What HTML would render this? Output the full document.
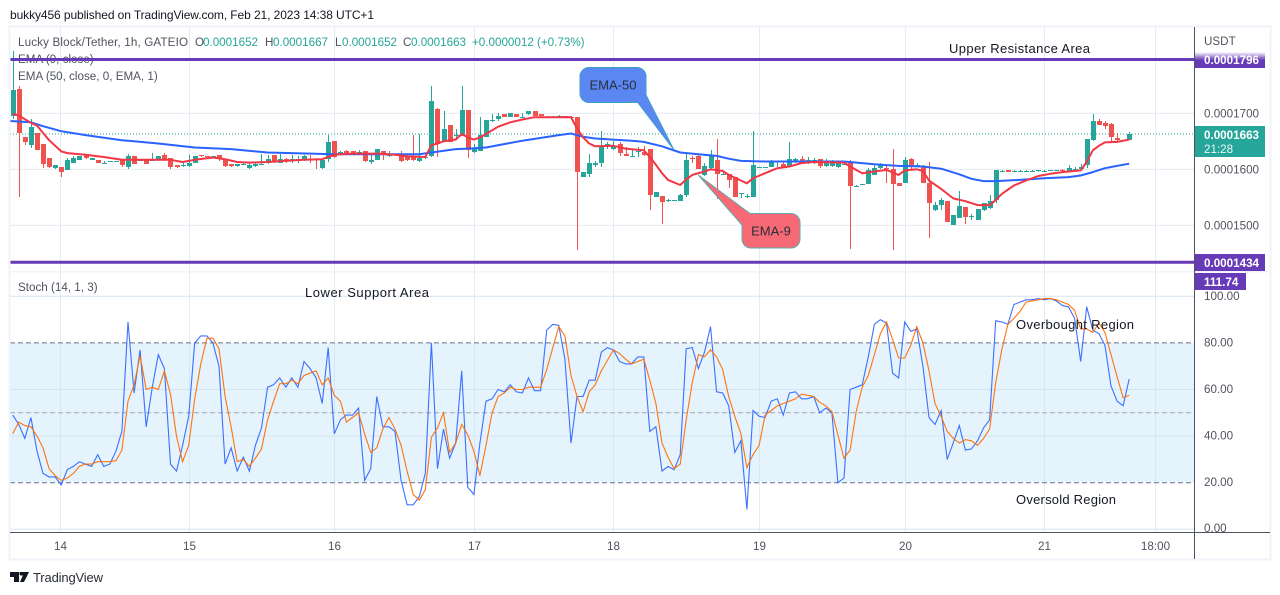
<!DOCTYPE html>
<html lang="en">
<head>
<meta charset="utf-8">
<title>Lucky Block/Tether 1h chart</title>
<style>
html,body{margin:0;padding:0;background:#fff;width:1280px;height:595px;overflow:hidden}
svg{display:block;font-family:"Liberation Sans",sans-serif}
.axis{font-size:11.65px;fill:#50535e}
.legend{font-size:11.65px;fill:#50535e}
.val{font-size:11.65px;fill:#26a69a}
.note{font-size:13px;fill:#131722}
.tag{font-size:11.65px;fill:#fff;font-weight:700}
</style>
</head>
<body>
<svg id="chart" xmlns="http://www.w3.org/2000/svg" width="1280" height="595" viewBox="0 0 1280 595">
  <defs>
    <linearGradient id="fadeTag" x1="0" y1="0" x2="0" y2="1">
      <stop offset="0" stop-color="#ffffff"/>
      <stop offset="0.5" stop-color="#673ab7"/>
      <stop offset="1" stop-color="#673ab7"/>
    </linearGradient>
    <clipPath id="mainClip"><rect x="10" y="27" width="1184.5" height="244"/></clipPath>
    <clipPath id="stochClip"><rect x="10" y="272" width="1184.5" height="260"/></clipPath>
  </defs>
  <text x="10" y="19" font-size="12" fill="#131722" textLength="364" lengthAdjust="spacing">bukky456 published on TradingView.com, Feb 21, 2023 14:38 UTC+1</text>

  <rect id="stochBand" x="10" width="1184.5" fill="#e5f3fd"/>
  <g id="gridLayer"></g>

  <g>
    <text class="legend" x="18" y="46" textLength="170" lengthAdjust="spacing">Lucky Block/Tether, 1h, GATEIO</text>
    <text class="legend" x="195" y="46">O</text>
    <text class="val" x="203" y="46">0.0001652</text>
    <text class="legend" x="265" y="46">H</text>
    <text class="val" x="273" y="46">0.0001667</text>
    <text class="legend" x="335" y="46">L</text>
    <text class="val" x="342" y="46">0.0001652</text>
    <text class="legend" x="403" y="46">C</text>
    <text class="val" x="411" y="46">0.0001663</text>
    <text class="val" x="472" y="46">+0.0000012</text>
    <text class="val" x="537" y="46">(+0.73%)</text>
    <text class="legend" x="18" y="63">EMA (9, close)</text>
    <text class="legend" x="18" y="80">EMA (50, close, 0, EMA, 1)</text>
    <text class="legend" x="18" y="291">Stoch (14, 1, 3)</text>
  </g>

  <g id="mainLayer" clip-path="url(#mainClip)"></g>
  <g id="stochLayer" clip-path="url(#stochClip)"></g>
  <g id="levelLayer"></g>

  <g>
    <path d="M589 67.5H637a9 9 0 0 1 9 9V95L674 150L637.7 102.5H589a9 9 0 0 1 -9 -9V76.5a9 9 0 0 1 9 -9Z" fill="#5b87f3" stroke="#3f9fc9" stroke-width="1"/>
    <text x="613" y="89.5" font-size="13" fill="#2a2e39" text-anchor="middle">EMA-50</text>
  </g>
  <g>
    <path d="M698.3 175L750 213.5H791a9 9 0 0 1 9 9V239a9 9 0 0 1 -9 9H751a9 9 0 0 1 -9 -9V225Z" fill="#f76a75" stroke="#5fa9b0" stroke-width="1"/>
    <text x="771" y="235.5" font-size="13" fill="#2a2e39" text-anchor="middle">EMA-9</text>
  </g>

  <text class="note" x="949" y="53" textLength="141" lengthAdjust="spacing">Upper Resistance Area</text>
  <text class="note" x="305" y="297" textLength="124" lengthAdjust="spacing">Lower Support Area</text>
  <text class="note" x="1016" y="329" textLength="118" lengthAdjust="spacing">Overbought Region</text>
  <text class="note" x="1016" y="504" textLength="100" lengthAdjust="spacing">Oversold Region</text>

  <rect x="9.5" y="26.5" width="1261" height="533" fill="none" stroke="#f0f3fa" stroke-width="2"/>
  <rect x="10" y="271" width="1260" height="1.5" fill="#f0f3fa"/>
  <rect x="1194" y="27" width="1" height="532" fill="#50535e"/>
  <rect x="10" y="532" width="1260" height="1" fill="#50535e"/>

  <text class="axis" x="1204" y="45">USDT</text>
  <g id="axisLayer"></g>

  <rect x="1195" y="52" width="70" height="16" fill="url(#fadeTag)"/>
  <text class="tag" x="1204" y="64">0.0001796</text>
  <rect x="1195" y="254" width="70" height="17" fill="#673ab7"/>
  <text class="tag" x="1204" y="267">0.0001434</text>
  <rect x="1195" y="126" width="70" height="31" fill="#26a69a"/>
  <text class="tag" x="1204" y="139">0.0001663</text>
  <text class="tag" x="1204" y="153" style="font-weight:400" fill-opacity="0.9">21:28</text>
  <rect x="1195" y="273" width="51" height="17" fill="#673ab7"/>
  <text class="tag" x="1204" y="286">111.74</text>

  <g>
    <path d="M10 572H19V582H14V577H10ZM20 572H29L24 582H20L23 575A2 2 0 0 1 20 572Z" fill="#131722"/>
    <text x="33" y="582" font-size="13" fill="#2a2e39" textLength="70" lengthAdjust="spacing">TradingView</text>
  </g>
</svg>
<script>
const candleOpen = [
1695,1743,1657,1643,1664,1645,1621,1602,1605,1598,
1612,1616,1625,1616,1616,1611,1613,1613,1616,1605,
1623,1616,1618,1616,1617,1625,1621,1607,1606,1606,
1612,1625,1624,1623,1625,1618,1610,1606,1609,1603,
1606,1610,1611,1625,1612,1618,1617,1618,1618,1619,
1618,1603,1618,1650,1627,1633,1632,1628,1632,1613,
1617,1632,1624,1626,1627,1622,1622,1614,1620,1624,
1708,1648,1679,1659,1659,1706,1631,1633,1658,1687,
1690,1698,1694,1698,1694,1698,1704,1698,1694,1694,
1694,1695,1694,1693,1587,1591,1608,1612,1642,1636,
1646,1628,1623,1631,1631,1636,1551,1552,1545,1544,
1543,1554,1620,1624,1590,1602,1617,1591,1592,1587,
1557,1551,1550,1603,1604,1604,1613,1609,1606,1613,
1618,1612,1611,1618,1606,1606,1604,1610,1612,1571,
1573,1574,1590,1602,1603,1600,1575,1576,1618,1607,
1605,1576,1528,1537,1543,1500,1513,1532,1515,1509,
1527,1531,1545,1596,1598,1596,1597,1597,1597,1597,
1597,1598,1598,1598,1597,1600,1600,1607,1652,1687,
1682,1681,1656,1652,1652];
const candleHigh = [
1811,1748,1657,1689,1664,1645,1621,1607,1605,1621,
1623,1624,1625,1620,1616,1615,1614,1614,1616,1627,
1624,1617,1618,1630,1624,1629,1621,1607,1611,1625,
1623,1626,1624,1624,1625,1618,1610,1610,1611,1611,
1612,1628,1625,1625,1627,1620,1625,1623,1626,1625,
1620,1618,1662,1650,1633,1634,1633,1634,1633,1625,
1636,1633,1633,1628,1633,1626,1662,1663,1623,1749,
1710,1704,1679,1672,1749,1706,1645,1694,1688,1698,
1700,1699,1700,1698,1700,1704,1704,1699,1695,1695,
1697,1695,1695,1693,1595,1627,1615,1669,1649,1650,
1648,1639,1637,1640,1641,1636,1559,1552,1547,1546,
1556,1630,1624,1625,1611,1634,1655,1597,1592,1587,
1558,1556,1669,1604,1605,1617,1614,1614,1648,1620,
1624,1622,1620,1619,1618,1617,1615,1612,1617,1572,
1574,1602,1610,1611,1608,1636,1575,1622,1620,1611,
1607,1613,1542,1549,1543,1519,1562,1532,1520,1530,
1540,1555,1598,1598,1598,1599,1598,1598,1598,1599,
1598,1599,1599,1600,1607,1605,1609,1655,1699,1689,
1686,1683,1665,1653,1667];
const candleLow = [
1689,1551,1643,1638,1634,1602,1602,1601,1586,1598,
1611,1616,1619,1616,1612,1610,1613,1613,1605,1600,
1609,1615,1609,1615,1614,1615,1600,1602,1605,1604,
1612,1622,1623,1622,1614,1604,1604,1605,1607,1601,
1605,1607,1610,1611,1611,1612,1612,1612,1615,1612,
1600,1600,1613,1620,1626,1626,1627,1625,1613,1610,
1617,1617,1622,1625,1613,1615,1615,1613,1619,1622,
1622,1648,1649,1655,1659,1621,1630,1633,1658,1685,
1686,1694,1694,1694,1693,1697,1695,1695,1693,1693,
1693,1692,1691,1456,1586,1587,1605,1605,1637,1634,
1624,1623,1622,1622,1623,1527,1551,1503,1541,1543,
1543,1551,1611,1600,1588,1600,1547,1590,1567,1550,
1549,1548,1550,1603,1604,1604,1604,1604,1604,1612,
1612,1610,1610,1603,1604,1605,1602,1609,1458,1570,
1572,1573,1590,1600,1575,1456,1570,1575,1599,1605,
1576,1477,1526,1527,1506,1500,1513,1502,1510,1509,
1525,1530,1540,1595,1596,1596,1596,1596,1596,1596,
1596,1597,1597,1596,1596,1599,1598,1603,1650,1680,
1672,1650,1650,1650,1652];
const candleClose = [
1741,1665,1648,1675,1634,1609,1605,1607,1596,1616,
1620,1623,1620,1620,1612,1612,1614,1614,1607,1623,
1609,1616,1610,1617,1623,1618,1605,1604,1607,1612,
1623,1623,1623,1623,1618,1606,1606,1609,1609,1608,
1610,1610,1618,1613,1619,1617,1618,1618,1624,1618,
1617,1617,1648,1622,1631,1628,1627,1631,1614,1616,
1636,1627,1626,1627,1614,1616,1617,1621,1622,1722,
1646,1672,1649,1662,1706,1634,1637,1661,1688,1688,
1695,1694,1700,1694,1694,1704,1695,1695,1694,1694,
1695,1694,1693,1596,1595,1612,1612,1640,1645,1641,
1630,1624,1624,1633,1625,1554,1559,1541,1546,1545,
1555,1616,1619,1600,1606,1624,1592,1592,1581,1551,
1558,1552,1608,1604,1605,1614,1614,1604,1618,1618,
1613,1617,1616,1606,1613,1612,1611,1610,1570,1571,
1573,1599,1603,1608,1602,1574,1570,1616,1606,1608,
1576,1539,1536,1546,1506,1519,1534,1515,1516,1530,
1539,1543,1598,1597,1596,1597,1597,1597,1597,1599,
1597,1598,1598,1597,1603,1601,1604,1655,1686,1680,
1677,1658,1652,1651,1663];

const ema9Bars = [0,1,3,4,5,6,7,8,9,12,15,18,21,24,26,28,30,33,35,37,39,42,45,48,51,52,53,54,56,60,63,65,68,69,70,71,73,74,75,76,77,78,80,82,84,86,90,92,93,94,95,96,99,101,104,105,106,107,108,110,111,112,114,115,117,118,120,121,122,124,126,128,130,132,137,138,140,142,144,146,147,149,150,151,153,155,157,159,161,162,163,165,167,169,171,173,176,177,178,179,180,182,184];
const ema9Values = [1699,1696,1683,1678,1665,1652,1642,1632,1629,1626,1622,1617,1617,1617,1617,1613,1617,1621,1618,1613,1612,1613,1615,1617,1618,1622,1626,1627,1628,1628,1626,1623,1622,1643,1646,1650,1653,1663,1657,1653,1657,1663,1676,1684,1689,1693,1693,1693,1673,1657,1646,1641,1642,1637,1634,1622,1608,1593,1581,1572,1582,1590,1596,1600,1597,1590,1580,1575,1584,1593,1602,1605,1611,1613,1612,1605,1593,1596,1599,1590,1598,1600,1597,1580,1565,1548,1543,1536,1536,1545,1556,1571,1580,1588,1592,1595,1598,1613,1634,1642,1648,1649,1653];
const ema50Bars = [-0.5,0,3,5,8,12,18,24,30,36,42,53,58,67,69,73,75,78,84,90,92,94,96,102,104,107,110,113,116,118,120,124,130,137,142,146,150,153,156,158,160,162,166,170,174,176,178,180,182,184];
const ema50Values = [1686,1686,1684,1677,1668,1661,1652,1646,1639,1636,1630,1627,1627,1627,1630,1636,1637,1639,1651,1661,1664,1658,1655,1651,1649,1641,1630,1627,1624,1619,1615,1614,1614,1614,1609,1606,1605,1601,1591,1583,1579,1579,1581,1584,1586,1589,1595,1602,1606,1610];

const stochK = [
49,45,39,48,33.5,24,22.5,22.5,19,25.6,
27,29,28,27,32,27,28,33.5,42,89,
58.5,77,44,61,75,69,28,25,36,48.5,
80,83,83,80,70,28,35,25,31,25,
36,43.5,61,62,65,61,65,61,72,69,
65,54,78,41,47,49,49,52,21,26,
57,44,44,42,21,10.5,10.5,14,24,80,
26,43,30.5,37,68,18,15,37,55,56,
60,59,62,59,58.5,65,59.5,59.5,85.5,88,
87.5,73,37,57,57,64,64,76,78,77,
72,71,71,74,74,42,44,25,27,25.6,
32,77.5,78,69,76,87,59,58.5,53,33,
38,8.5,51,48.5,48,55,56,49,58.5,59,
56,56,57,50,52,50,20,22,60,61,
62,74,88,90,88.5,67,65,89,85,86,
70,48,45,51,30,37,44.5,34,34.5,38,
43.5,47,89.5,89,88,96.5,97.5,98.5,98.5,99,
98.5,99,98,96,95.5,90.5,72,95.5,85.5,84,
79,61.5,55,53,64.5];
const stochD = [
41,46,44.5,44,40,35,26,23,21,22,
24,27,28,28,29,29,29,29.5,34,55,
62,74.5,60,61,60,68,58,40,29,36,
56,71,82,82,77.5,57,44,29,30,27,
30.5,34.5,47,55,62.5,62.5,64,62.5,66,67,
68,62,65,57.5,55,46,48,50,41,33,
35,43,48,43,36,25,15,12.5,17,39.5,
43.5,50,33,37,45,40.5,33.5,23,36,50,
57,58.5,61,60,60,61,61,61,68.5,78,
87,83,66,57,50.5,59,62,68,72.5,77,
75.5,73,71,72,73,64,54,37,31,26,
28,47,63,75,74,77,74,68.5,57,48.5,
41,26.5,32,36,49,51,53,54,55,56,
58,57.5,57,54.5,53,50.5,40.5,30.5,34,50.5,
61,66,75,84,89,81.5,73.5,73.5,79,87,
80,68,54,48.5,42,39,37,38.5,38,36,
39,43,63,77,88,90.5,93.5,97.5,98,98.5,
99,99,98.5,97.5,96.5,94,86,86,84.5,88.5,
84.5,75,65.5,56.5,57.5];

const priceTickValues = [1700,1600,1500];
const priceTickLabels = ["0.0001700","0.0001600","0.0001500"];
const stochTickValues = [100,80,60,40,20,0];
const stochTickLabels = ["100.00","80.00","60.00","40.00","20.00","0.00"];
const stochGridValues = [100,60,40,0];
const stochDashValues = [80,50,20];
const timeTickBars = [7.8,29,53,76,99,123,147,170,188.2];
const timeTickLabels = ["14","15","16","17","18","19","20","21","18:00"];
const levelValues = [1796,1434];
const lastPrice = 1663;

const NS = "http://www.w3.org/2000/svg";
const xAt = i => 12.7 + 6.068 * i;
const yPrice = p => 113.3 + (1700 - p) * 0.56;
const yStoch = v => 296.3 + (100 - v) * 2.33;

function make(tag, parent, attrs) {
  const el = document.createElementNS(NS, tag);
  for (const k in attrs) el.setAttribute(k, attrs[k]);
  parent.appendChild(el);
  return el;
}

const gridLayer = document.getElementById("gridLayer");
const mainLayer = document.getElementById("mainLayer");
const stochLayer = document.getElementById("stochLayer");
const levelLayer = document.getElementById("levelLayer");
const axisLayer = document.getElementById("axisLayer");

const band = document.getElementById("stochBand");
band.setAttribute("y", yStoch(80));
band.setAttribute("height", yStoch(20) - yStoch(80));

timeTickBars.forEach((b, i) => {
  const x = Math.round(xAt(b)) + 0.5;
  const top = make("line", gridLayer, {x1: x, x2: x, y1: 27, y2: 532, stroke: "#c9dded", "stroke-opacity": 0.55, "stroke-width": 1});
  
  
  const t = make("text", axisLayer, {x: x, y: 550, "text-anchor": "middle", class: "axis"});
  
  
  t.textContent = timeTickLabels[i];
});

priceTickValues.forEach((v, i) => {
  const y = yPrice(v);
  const g = make("line", gridLayer, {x1: 10, x2: 1194, y1: y, y2: y, stroke: "#e4ebf2", "stroke-width": 1.2});
  
  
  const t = make("text", axisLayer, {x: 1204, y: y + 4.2, class: "axis"});
  
  
  t.textContent = priceTickLabels[i];
});

stochGridValues.forEach(v => {
  const y = yStoch(v);
  const g = make("line", gridLayer, {x1: 10, x2: 1194, y1: y, y2: y, stroke: "#d3e4f1", "stroke-width": 1});
  
  
});

stochTickValues.forEach((v, i) => {
  const y = yStoch(v);
  const t = make("text", axisLayer, {x: 1204, y: Math.min(y + 3.5, 532), class: "axis"});
  
  
  t.textContent = stochTickLabels[i];
});

stochDashValues.forEach(v => {
  const y = yStoch(v);
  const g = make("line", gridLayer, {x1: 10, x2: 1194, y1: y, y2: y, stroke: v === 50 ? "#a3a6af" : "#6f7280", "stroke-width": 1, "stroke-dasharray": "5 3"});
  
  
});

const lastLine = make("line", mainLayer, {x1: 10, x2: 1194, y1: yPrice(lastPrice), y2: yPrice(lastPrice), stroke: "#26a69a", "stroke-width": 1, "stroke-dasharray": "1 2"});



candleOpen.forEach((o, i) => {
  const c = candleClose[i];
  const color = c >= o ? "#26a69a" : "#ef5350";
  const x = Math.round(xAt(i));
  const yTop = Math.round(yPrice(Math.max(o, c)));
  const yBot = Math.round(yPrice(Math.min(o, c)));
  const yHigh = Math.round(yPrice(candleHigh[i]));
  const yLow = Math.round(yPrice(candleLow[i]));
  const wick = make("rect", mainLayer, {x: x, y: yHigh, width: 1, height: Math.max(1, yLow - yHigh), fill: color});
  
  
  const body = make("rect", mainLayer, {x: x - 2, y: yTop, width: 5, height: Math.max(1, yBot - yTop), fill: color});
  
  
});

function polyPoints(bars, values, yFn) {
  return values.map((v, i) => xAt(bars ? bars[i] : i).toFixed(1) + "," + yFn(v).toFixed(1)).join(" ");
}

const ema50Line = make("polyline", mainLayer, {points: polyPoints(ema50Bars, ema50Values, yPrice), fill: "none", stroke: "#2962ff", "stroke-width": 2, "stroke-linejoin": "round"});


const ema9Line = make("polyline", mainLayer, {points: polyPoints(ema9Bars, ema9Values, yPrice), fill: "none", stroke: "#f23645", "stroke-width": 2, "stroke-linejoin": "round"});



const kLine = make("polyline", stochLayer, {points: polyPoints(null, stochK, yStoch), fill: "none", stroke: "#2962ff", "stroke-width": 1.1, "stroke-opacity": 0.9});


const dLine = make("polyline", stochLayer, {points: polyPoints(null, stochD, yStoch), fill: "none", stroke: "#ff6d00", "stroke-width": 1.1, "stroke-opacity": 0.95});



levelValues.forEach(v => {
  const y = yPrice(v);
  const l = make("line", levelLayer, {x1: 10, x2: 1194, y1: y, y2: y, stroke: "#673ab7", "stroke-width": 3});
  
  
});
</script>
</body>
</html>
